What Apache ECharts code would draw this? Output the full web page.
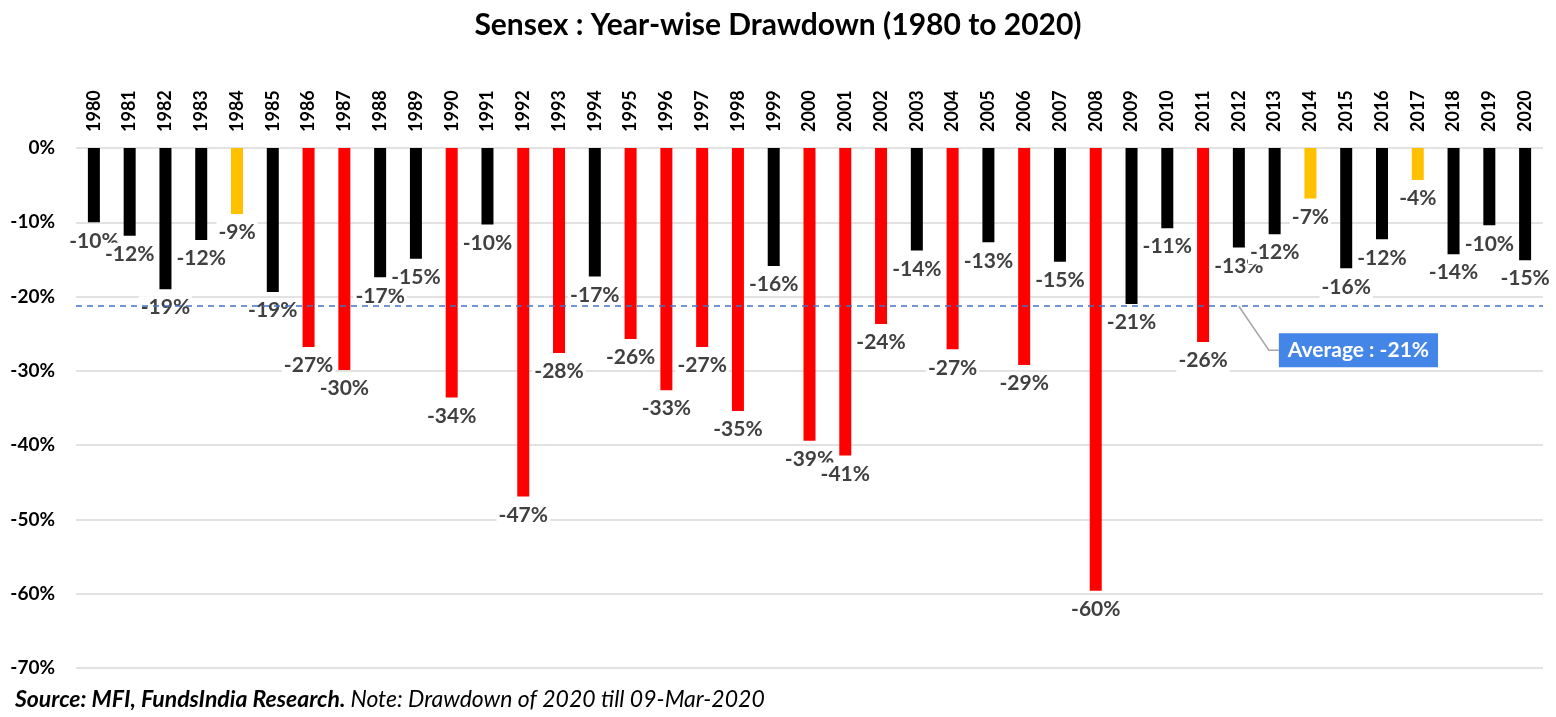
<!DOCTYPE html>
<html>
<head>
<meta charset="utf-8">
<script src="https://cdn.jsdelivr.net/npm/echarts@6/dist/echarts.min.js"></script>
<style>
html,body{margin:0;padding:0;background:#fff;}
#chart{width:1556px;height:717px;}
</style>
</head>
<body>
<div id="chart"></div>
<script>
const years = ['1980','1981','1982','1983','1984','1985','1986','1987','1988','1989','1990','1991','1992','1993','1994','1995','1996','1997','1998','1999','2000','2001','2002','2003','2004','2005','2006','2007','2008','2009','2010','2011','2012','2013','2014','2015','2016','2017','2018','2019','2020'];
const drawdown = [-10.0,-11.8,-19.0,-12.4,-8.9,-19.4,-26.8,-29.9,-17.4,-14.9,-33.6,-10.3,-46.9,-27.6,-17.3,-25.7,-32.6,-26.8,-35.4,-15.9,-39.4,-41.4,-23.7,-13.8,-27.1,-12.7,-29.2,-15.3,-59.6,-21.0,-10.8,-26.1,-13.4,-11.6,-6.8,-16.2,-12.3,-4.3,-14.3,-10.4,-15.1];
const average = -21.3;
const yTicks = [0,-10,-20,-30,-40,-50,-60,-70];

function barColor(v){
  if (v < -23) return '#FF0000';
  if (v > -9.5) return '#FFC000';
  return '#000000';
}

const FONT = 'Lato, "Open Sans", sans-serif';
const chart = echarts.init(document.getElementById('chart'));
const option = {
  backgroundColor: '#ffffff',
  animation: false,
  title: [{
    text: 'Sensex : Year-wise Drawdown (1980 to 2020)',
    left: 'center', top: 5,
    textStyle: {fontFamily: FONT, fontWeight: 'bold', fontSize: 30, color: '#000'}
  },{
    text: '{b|Source: MFI, FundsIndia Research.} {n|Note: Drawdown of 2020 till 09-Mar-2020}',
    left: 10, bottom: 1,
    textStyle: {
      rich: {
        b: {fontFamily: FONT, fontStyle: 'italic', fontWeight: 'bold', fontSize: 23, color: '#000'},
        n: {fontFamily: FONT, fontStyle: 'italic', fontWeight: 'normal', fontSize: 23, color: '#000'}
      }
    }
  }],
  grid: {left: 76, right: 13, top: 148, bottom: 49, containLabel: false},
  xAxis: {
    type: 'category',
    position: 'top',
    data: years,
    axisLine: {show: false},
    axisTick: {show: false},
    axisLabel: {rotate: 90, margin: 16, fontFamily: FONT, fontWeight: 'bold', fontSize: 18, color: '#000', interval: 0}
  },
  yAxis: {
    type: 'value',
    min: -70, max: 0, interval: 10,
    axisLine: {show: false},
    axisTick: {show: false},
    splitLine: {lineStyle: {color: '#D9D9D9', width: 1.5}},
    axisLabel: {margin: 21, fontFamily: FONT, fontWeight: 'bold', fontSize: 19, color: '#000',
      formatter: v => yTicks.indexOf(v) >= 0 ? v + '%' : ''}
  },
  series: [{
    type: 'bar',
    barWidth: 12,
    data: drawdown.map(v => ({value: v, itemStyle: {color: barColor(v)}})),
    label: {
      show: true,
      position: 'bottom',
      distance: 7,
      formatter: p => Math.round(p.value) + '%',
      fontFamily: FONT, fontWeight: 'bold', fontSize: 21, color: '#404040',
      backgroundColor: '#ffffff', padding: [1, 2]
    },
    labelLayout: {moveOverlap: 'shiftY'},
    markLine: {
      symbol: 'none',
      silent: true,
      label: {show: false},
      lineStyle: {color: '#4472C4', type: [6, 5], width: 1.5},
      data: [{yAxis: average}]
    },
    z: 2
  }]
};
chart.setOption(option);

// Average callout anchored to the average value via the axis scales
const anchor = chart.convertToPixel({gridIndex: 0}, [32, average]);
const ax = anchor[0], ay = anchor[1];
const bx = ax + 40, by = ay + 44;
chart.setOption({
  graphic: [{
    type: 'polyline',
    shape: {points: [[ax, ay], [bx - 10, by], [bx, by]]},
    style: {stroke: '#A6A6A6', lineWidth: 1.5, fill: null},
    z: 10
  },{
    type: 'text',
    x: bx, y: by,
    style: {
      text: 'Average : -21%',
      fontFamily: FONT, fontWeight: 'bold', fontSize: 21, fill: '#ffffff',
      backgroundColor: '#4485E8', padding: [7, 9, 6, 9],
      verticalAlign: 'middle', align: 'left'
    },
    z: 11
  }]
});
</script>
</body>
</html>
